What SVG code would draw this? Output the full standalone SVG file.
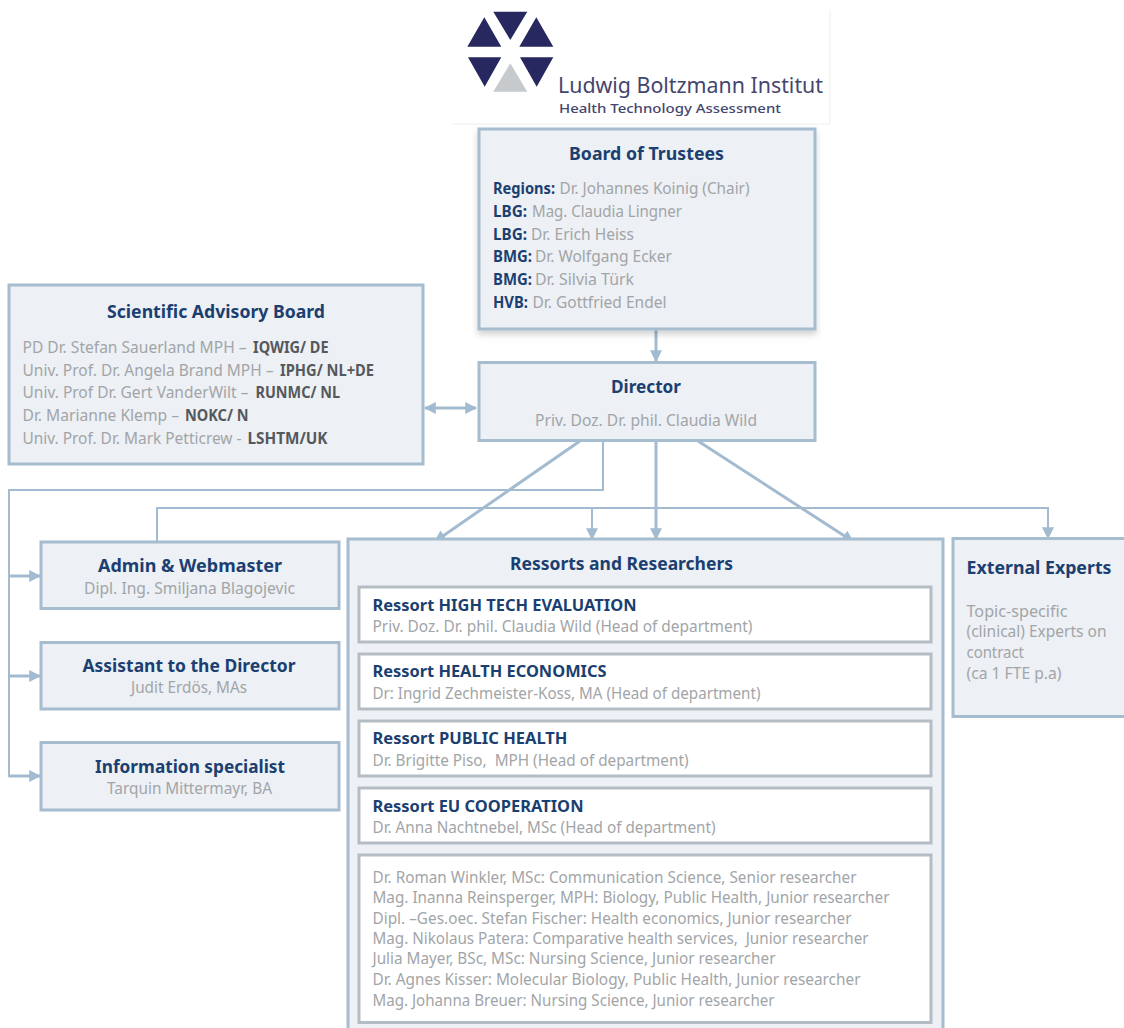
<svg xmlns="http://www.w3.org/2000/svg" width="1124" height="1028" viewBox="0 0 1124 1028">
<style>
text{font-family:"Noto Sans","Liberation Sans",sans-serif}
.box{fill:#edf0f4;stroke:#a6bccf;stroke-width:3}
.inner{fill:#fff;stroke:#b5bdc4;stroke-width:3}
.t{font-size:18px;font-weight:700;fill:#1b3f70}
.h{font-size:16.5px;font-weight:700;fill:#1b3f70}
.g{font-size:16px;fill:#a2a5a8}
.k{font-size:16px;font-weight:700;fill:#55595d}
.c{fill:none;stroke:#a3bbd0}
.th{stroke-width:3}
.tn{stroke-width:2}
</style>
<defs>
<marker id="a" viewBox="0 0 10 10" refX="9" refY="5" markerWidth="12" markerHeight="12" markerUnits="userSpaceOnUse" orient="auto-start-reverse"><path d="M0 0L10 5L0 10Z" fill="#a3bbd0"/></marker>
<filter id="s" x="-5%" y="-5%" width="110%" height="115%"><feDropShadow dx="0" dy="4" stdDeviation="3" flood-color="#000" flood-opacity=".18"/></filter>
</defs>
<g id="logo">
<rect x="453" y="10" width="377" height="114" fill="#fff"/>
<path d="M453 124H830V10" fill="none" stroke="#eee"/>
<path d="M493.3 11.7H527.3L510.3 40ZM467.3 46.7H501.3L484.3 17.3ZM519.3 46.7H553.3L536.3 17.3ZM468 57.3H501.3L484.7 86.7ZM520 57.3H553.3L536.7 86.7Z" fill="#27285f"/>
<path d="M493.3 91.7H527.3L510.3 63.3Z" fill="#c6cacd"/>
<text x="558" y="93" font-size="21" fill="#44466e" textLength="265" lengthAdjust="spacingAndGlyphs">Ludwig Boltzmann Institut</text>
<text x="559" y="113" font-size="13" font-weight="500" fill="#44466e" textLength="222" lengthAdjust="spacingAndGlyphs">Health Technology Assessment</text>
</g>
<g id="connectors">
<path class="c th" d="M656 330V361" marker-end="url(#a)"/>
<path class="c th" d="M425 408H476" marker-start="url(#a)" marker-end="url(#a)"/>
<path class="c tn" d="M603 441V490H9V776H40"/>
<path class="c th" d="M9 576H40" marker-end="url(#a)"/>
<path class="c th" d="M9 676H40" marker-end="url(#a)"/>
<path class="c th" d="M9 776H40" marker-end="url(#a)"/>
<path class="c tn" d="M157 541V508H1048V538" marker-end="url(#a)"/>
<path class="c tn" d="M592 508V539" marker-end="url(#a)"/>
<path class="c th" d="M580 441L435 541.5" marker-end="url(#a)"/>
<path class="c th" d="M656 441V539" marker-end="url(#a)"/>
<path class="c th" d="M698 441L853 541.5" marker-end="url(#a)"/>
</g>
<g id="board">
<rect class="box" x="479" y="129" width="336" height="200" filter="url(#s)"/>
<text class="t" x="569" y="160" textLength="155" lengthAdjust="spacingAndGlyphs">Board of Trustees</text>
<text class="h" x="493" y="194" textLength="62" lengthAdjust="spacingAndGlyphs">Regions:</text>
<text class="g" x="559.5" y="194" textLength="190" lengthAdjust="spacingAndGlyphs">Dr. Johannes Koinig (Chair)</text>
<text class="h" x="493" y="217" textLength="34" lengthAdjust="spacingAndGlyphs">LBG:</text>
<text class="g" x="532" y="217" textLength="150" lengthAdjust="spacingAndGlyphs">Mag. Claudia Lingner</text>
<text class="h" x="493" y="240" textLength="34" lengthAdjust="spacingAndGlyphs">LBG:</text>
<text class="g" x="531" y="240" textLength="103" lengthAdjust="spacingAndGlyphs">Dr. Erich Heiss</text>
<text class="h" x="493" y="262" textLength="39" lengthAdjust="spacingAndGlyphs">BMG:</text>
<text class="g" x="535" y="262" textLength="137" lengthAdjust="spacingAndGlyphs">Dr. Wolfgang Ecker</text>
<text class="h" x="493" y="285" textLength="39" lengthAdjust="spacingAndGlyphs">BMG:</text>
<text class="g" x="535" y="285" textLength="99" lengthAdjust="spacingAndGlyphs">Dr. Silvia Türk</text>
<text class="h" x="493" y="308" textLength="35" lengthAdjust="spacingAndGlyphs">HVB:</text>
<text class="g" x="532.5" y="308" textLength="134" lengthAdjust="spacingAndGlyphs">Dr. Gottfried Endel</text>
</g>
<g id="director">
<rect class="box" x="479" y="362.5" width="336" height="78"/>
<text class="t" x="611" y="393" textLength="70" lengthAdjust="spacingAndGlyphs">Director</text>
<text class="g" x="535" y="426" textLength="222" lengthAdjust="spacingAndGlyphs">Priv. Doz. Dr. phil. Claudia Wild</text>
</g>
<g id="advisory">
<rect class="box" x="9" y="285" width="414" height="179"/>
<text class="t" x="107" y="318" textLength="218" lengthAdjust="spacingAndGlyphs">Scientific Advisory Board</text>
<text class="g" x="22.5" y="353" textLength="224" lengthAdjust="spacingAndGlyphs">PD Dr. Stefan Sauerland MPH –</text>
<text class="k" x="253" y="353" textLength="75.5" lengthAdjust="spacingAndGlyphs">IQWIG/ DE</text>
<text class="g" x="22.5" y="376" textLength="251" lengthAdjust="spacingAndGlyphs">Univ. Prof. Dr. Angela Brand MPH –</text>
<text class="k" x="280" y="376" textLength="94" lengthAdjust="spacingAndGlyphs">IPHG/ NL+DE</text>
<text class="g" x="22.5" y="398" textLength="226" lengthAdjust="spacingAndGlyphs">Univ. Prof Dr. Gert VanderWilt –</text>
<text class="k" x="255.5" y="398" textLength="84.5" lengthAdjust="spacingAndGlyphs">RUNMC/ NL</text>
<text class="g" x="22.5" y="421" textLength="156.5" lengthAdjust="spacingAndGlyphs">Dr. Marianne Klemp –</text>
<text class="k" x="185" y="421" textLength="63.5" lengthAdjust="spacingAndGlyphs">NOKC/ N</text>
<text class="g" x="22.5" y="444" textLength="219" lengthAdjust="spacingAndGlyphs">Univ. Prof. Dr. Mark Petticrew -</text>
<text class="k" x="247.5" y="444" textLength="80" lengthAdjust="spacingAndGlyphs">LSHTM/UK</text>
</g>
<g id="admin">
<rect class="box" x="41" y="542" width="298" height="66.5"/>
<text class="t" x="98" y="572" textLength="184" lengthAdjust="spacingAndGlyphs">Admin &amp; Webmaster</text>
<text class="g" x="84" y="594" textLength="211" lengthAdjust="spacingAndGlyphs">Dipl. Ing. Smiljana Blagojevic</text>
</g>
<g id="assistant">
<rect class="box" x="41" y="642.5" width="298" height="66.5"/>
<text class="t" x="82.5" y="672" textLength="213" lengthAdjust="spacingAndGlyphs">Assistant to the Director</text>
<text class="g" x="131" y="693" textLength="116" lengthAdjust="spacingAndGlyphs">Judit Erdös, MAs</text>
</g>
<g id="info">
<rect class="box" x="41" y="742.5" width="298" height="67.5"/>
<text class="t" x="95" y="773" textLength="190" lengthAdjust="spacingAndGlyphs">Information specialist</text>
<text class="g" x="107" y="794" textLength="165" lengthAdjust="spacingAndGlyphs">Tarquin Mittermayr, BA</text>
</g>
<g id="ressorts">
<rect class="box" x="348" y="539" width="595" height="495"/>
<text class="t" x="510" y="570" textLength="223" lengthAdjust="spacingAndGlyphs">Ressorts and Researchers</text>
<rect class="inner" x="359" y="587" width="572" height="55"/>
<text class="h" x="372.5" y="611" textLength="264" lengthAdjust="spacingAndGlyphs">Ressort HIGH TECH EVALUATION</text>
<text class="g" x="372.5" y="632" textLength="380" lengthAdjust="spacingAndGlyphs">Priv. Doz. Dr. phil. Claudia Wild (Head of department)</text>
<rect class="inner" x="359" y="654" width="572" height="55"/>
<text class="h" x="372.5" y="677" textLength="234" lengthAdjust="spacingAndGlyphs">Ressort HEALTH ECONOMICS</text>
<text class="g" x="372.5" y="699" textLength="388" lengthAdjust="spacingAndGlyphs">Dr: Ingrid Zechmeister-Koss, MA (Head of department)</text>
<rect class="inner" x="359" y="721" width="572" height="55"/>
<text class="h" x="372.5" y="744" textLength="195" lengthAdjust="spacingAndGlyphs">Ressort PUBLIC HEALTH</text>
<text class="g" x="372.5" y="766" textLength="316" lengthAdjust="spacingAndGlyphs" xml:space="preserve">Dr. Brigitte Piso,  MPH (Head of department)</text>
<rect class="inner" x="359" y="788" width="572" height="55"/>
<text class="h" x="372.5" y="812" textLength="211" lengthAdjust="spacingAndGlyphs">Ressort EU COOPERATION</text>
<text class="g" x="372.5" y="833" textLength="343" lengthAdjust="spacingAndGlyphs">Dr. Anna Nachtnebel, MSc (Head of department)</text>
<rect class="inner" x="359" y="855" width="572" height="167.5"/>
<text class="g" x="372.5" y="883" textLength="484" lengthAdjust="spacingAndGlyphs">Dr. Roman Winkler, MSc: Communication Science, Senior researcher</text>
<text class="g" x="372.5" y="903" textLength="517" lengthAdjust="spacingAndGlyphs">Mag. Inanna Reinsperger, MPH: Biology, Public Health, Junior researcher</text>
<text class="g" x="372.5" y="924" textLength="479" lengthAdjust="spacingAndGlyphs">Dipl. –Ges.oec. Stefan Fischer: Health economics, Junior researcher</text>
<text class="g" x="372.5" y="944" textLength="496" lengthAdjust="spacingAndGlyphs" xml:space="preserve">Mag. Nikolaus Patera: Comparative health services,  Junior researcher</text>
<text class="g" x="372.5" y="964" textLength="403" lengthAdjust="spacingAndGlyphs">Julia Mayer, BSc, MSc: Nursing Science, Junior researcher</text>
<text class="g" x="372.5" y="985" textLength="488" lengthAdjust="spacingAndGlyphs">Dr. Agnes Kisser: Molecular Biology, Public Health, Junior researcher</text>
<text class="g" x="372.5" y="1006" textLength="402" lengthAdjust="spacingAndGlyphs">Mag. Johanna Breuer: Nursing Science, Junior researcher</text>
</g>
<g id="external">
<rect class="box" x="953" y="538.5" width="180" height="178"/>
<text class="t" x="966.5" y="574" textLength="145" lengthAdjust="spacingAndGlyphs">External Experts</text>
<text class="g" x="966.5" y="617" textLength="101" lengthAdjust="spacingAndGlyphs">Topic-specific</text>
<text class="g" x="966.5" y="637" textLength="140" lengthAdjust="spacingAndGlyphs">(clinical) Experts on</text>
<text class="g" x="966.5" y="658" textLength="57.5" lengthAdjust="spacingAndGlyphs">contract</text>
<text class="g" x="966.5" y="679" textLength="95" lengthAdjust="spacingAndGlyphs">(ca 1 FTE p.a)</text>
</g>
</svg>
